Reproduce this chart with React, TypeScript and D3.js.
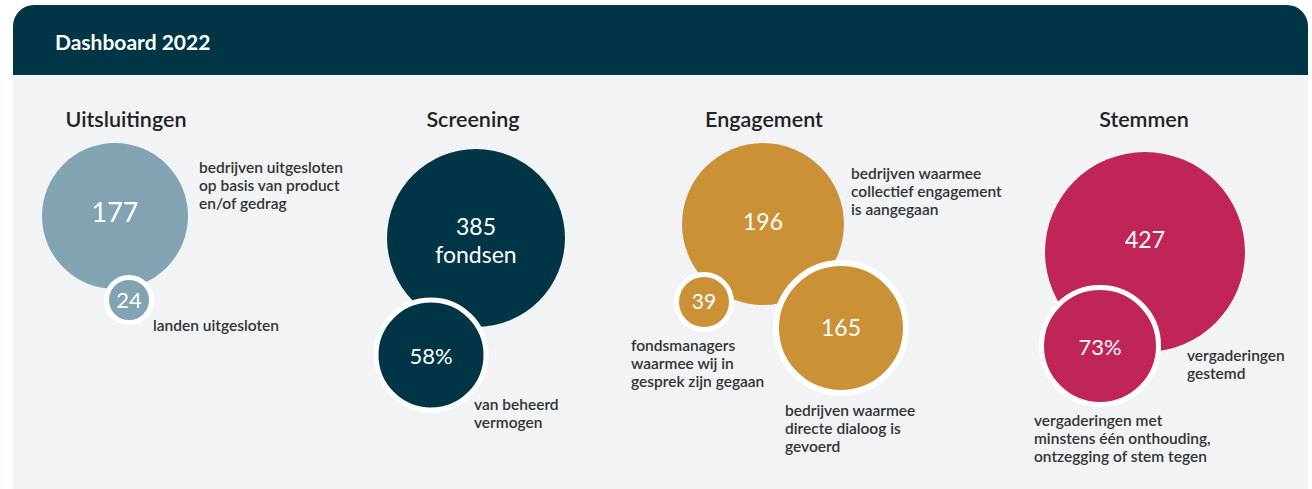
import React, { useEffect, useRef } from "react";
import * as d3 from "d3";

const chartTitle = "Dashboard 2022";
const panelTitles = ["Uitsluitingen", "Screening", "Engagement", "Stemmen"];
const panelColors = ["#82a3b2", "#003545", "#cb9137", "#bf2657"];

// bubble values per panel, main bubble first
const bubbleValues = [
  ["177", "24"],
  ["385|fondsen", "58%"],
  ["196", "39", "165"],
  ["427", "73%"],
];

const bubbleLabels = [
  [["bedrijven uitgesloten", "op basis van product", "en/of gedrag"], ["landen uitgesloten"]],
  [[], ["van beheerd", "vermogen"]],
  [
    ["bedrijven waarmee", "collectief engagement", "is aangegaan"],
    ["fondsmanagers", "waarmee wij in", "gesprek zijn gegaan"],
    ["bedrijven waarmee", "directe dialoog is", "gevoerd"],
  ],
  [["vergaderingen", "gestemd"], ["vergaderingen met", "minstens één onthouding,", "ontzegging of stem tegen"]],
];

// layout (positions in px), kept apart from the data
const titleX = [126, 473, 764, 1144];
const bubbleLayout = [
  [
    { cx: 115, cy: 216, r: 73, ring: 0, tdy: -3, fs: 27, lx: 199, ly: 173 },
    { cx: 129, cy: 300, r: 20, ring: 5, tdy: 0, fs: 22, lx: 153, ly: 331 },
  ],
  [
    { cx: 476, cy: 238, r: 89, ring: 0, tdy: 2, fs: 23, lx: 0, ly: 0 },
    { cx: 431, cy: 355, r: 52.5, ring: 5, tdy: 1, fs: 22, lx: 474, ly: 410 },
  ],
  [
    { cx: 763, cy: 224, r: 81, ring: 0, tdy: -2, fs: 23, lx: 851, ly: 179 },
    { cx: 704, cy: 302, r: 25, ring: 5, tdy: 0, fs: 21, lx: 631, ly: 351 },
    { cx: 841, cy: 328, r: 62, ring: 6, tdy: 0, fs: 23, lx: 785, ly: 416 },
  ],
  [
    { cx: 1145, cy: 252, r: 100, ring: 0, tdy: -12, fs: 23, lx: 1187, ly: 361 },
    { cx: 1100, cy: 346, r: 56, ring: 5, tdy: 1, fs: 22, lx: 1034, ly: 426 },
  ],
];

const width = 1312;
const height = 489;
const font = "Lato, 'Open Sans', sans-serif";

export default function App() {
  const ref = useRef<SVGSVGElement | null>(null);

  useEffect(() => {
    const svg = d3.select(ref.current);
    svg.selectAll("*").remove();

    svg.append("rect").attr("width", width).attr("height", height).attr("fill", "#ffffff");

    // light body panel
    svg.append("rect").attr("x", 13).attr("y", 40).attr("width", 1295).attr("height", height - 40).attr("fill", "#f2f3f5");

    // header with rounded top corners
    const hx = 13, hy = 5, hw = 1295, hh = 70, rad = 21;
    const p = d3.path();
    p.moveTo(hx, hy + hh);
    p.lineTo(hx, hy + rad);
    p.arcTo(hx, hy, hx + rad, hy, rad);
    p.lineTo(hx + hw - rad, hy);
    p.arcTo(hx + hw, hy, hx + hw, hy + rad, rad);
    p.lineTo(hx + hw, hy + hh);
    p.closePath();
    svg.append("path").attr("d", p.toString()).attr("fill", "#003546");

    svg
      .append("text")
      .attr("x", 55)
      .attr("y", 50)
      .attr("fill", "#ffffff")
      .attr("font-family", font)
      .attr("font-weight", 700)
      .attr("font-size", 21)
      .text(chartTitle);

    const panel = svg
      .append("g")
      .selectAll("g")
      .data(panelTitles.map((t, i) => ({ t, i })))
      .join("g");

    panel
      .append("text")
      .attr("x", d => titleX[d.i])
      .attr("y", 127)
      .attr("text-anchor", "middle")
      .attr("fill", "#222")
      .attr("font-family", font)
      .attr("font-weight", 600)
      .attr("font-size", 21.5)
      .text(d => d.t);

    panel.each(function (d) {
      const g = d3.select(this);
      const items = bubbleValues[d.i].map((v, j) => ({
        v,
        lines: bubbleLabels[d.i][j],
        ...bubbleLayout[d.i][j],
      }));

      const bubble = g.selectAll("g.bubble").data(items).join("g").attr("class", "bubble");

      bubble
        .append("circle")
        .attr("cx", b => b.cx)
        .attr("cy", b => b.cy)
        .attr("r", b => b.r + b.ring / 2)
        .attr("fill", panelColors[d.i])
        .attr("stroke", b => (b.ring ? "#ffffff" : "none"))
        .attr("stroke-width", b => b.ring);

      bubble
        .append("text")
        .attr("x", b => b.cx)
        .attr("y", b => b.cy + b.tdy)
        .attr("text-anchor", "middle")
        .attr("fill", "#ffffff")
        .attr("font-family", font)
        .attr("font-weight", 400)
        .attr("font-size", b => b.fs)
        .selectAll("tspan")
        .data(b => b.v.split("|").map((s, k, arr) => ({ s, k, n: arr.length, cx: b.cx })))
        .join("tspan")
        .attr("x", t => t.cx)
        .attr("dy", t => (t.k === 0 ? (t.n > 1 ? "-0.22em" : "0.35em") : "1.2em"))
        .text(t => t.s);

      bubble
        .append("text")
        .attr("font-family", font)
        .attr("font-weight", 600)
        .attr("font-size", 15.5)
        .attr("fill", "#333333")
        .selectAll("tspan")
        .data(b => b.lines.map((s, k) => ({ s, k, x: b.lx, y: b.ly })))
        .join("tspan")
        .attr("x", t => t.x)
        .attr("y", t => t.y + t.k * 18)
        .text(t => t.s);
    });
  }, []);

  return (
    <div style={{ position: "absolute", left: 0, top: 0 }}>
      <svg ref={ref} width={width} height={height} style={{ display: "block" }} />
    </div>
  );
}
